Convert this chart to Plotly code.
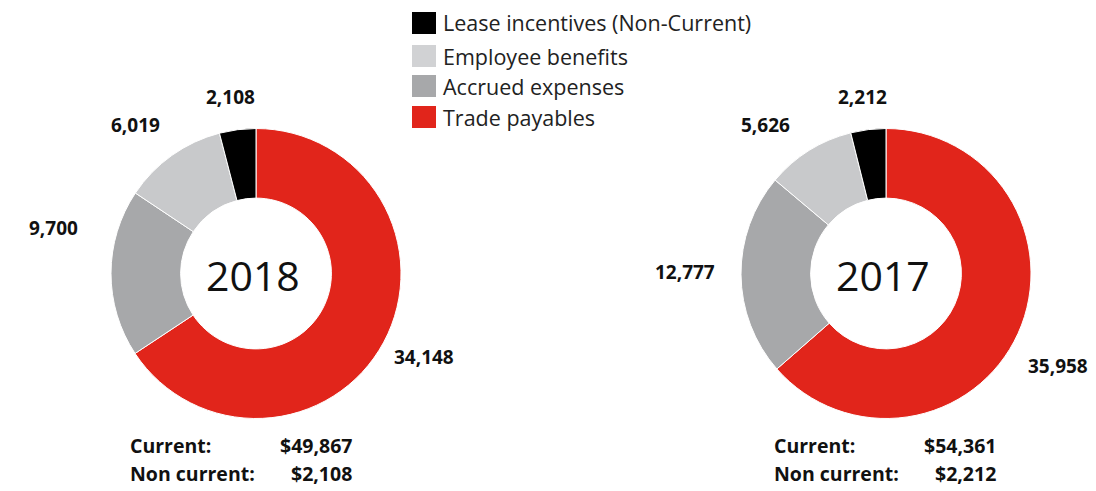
import plotly.graph_objects as go

categories = ["Trade payables", "Accrued expenses", "Employee benefits", "Lease incentives (Non-Current)"]
colors = ["#E1251B", "#A7A8AA", "#C8C9CB", "#000000"]
legend_colors = ["#E1251B", "#A7A8AA", "#D1D2D4", "#000000"]
values_2018 = [34148, 9700, 6019, 2108]
values_2017 = [35958, 12777, 5626, 2212]
years = ["2018", "2017"]

W, H = 1096, 491
FONT = "Open Sans"

def px(x):
    return x / W

def py(y):
    return 1 - y / H

fig = go.Figure()

# donut geometry (pixels)
centers = [(256, 273.5), (886, 273.5)]
R = 145
for (cx, cy), vals, yr in zip(centers, [values_2018, values_2017], years):
    fig.add_trace(go.Pie(
        labels=categories,
        values=vals,
        marker=dict(colors=colors, line=dict(color="white", width=1)),
        hole=0.52,
        sort=False,
        direction="clockwise",
        rotation=0,
        textinfo="none",
        hoverinfo="label+value",
        showlegend=False,
        domain=dict(x=[px(cx - R), px(cx + R)], y=[py(cy + R), py(cy - R)]),
        name=yr,
    ))

annotations = []
# value label positions (pixel centres), ordered as categories
label_pos = [
    [(424, 357), (53, 228), (135, 125), (230, 97)],
    [(1058, 366), (685, 272), (765, 125), (862, 97)],
]
for vals, poss in zip([values_2018, values_2017], label_pos):
    for v, (x, y) in zip(vals, poss):
        annotations.append(dict(
            x=px(x), y=py(y), xref="paper", yref="paper",
            text=f"<b>{v:,}</b>", showarrow=False,
            font=dict(family=FONT, size=19, color="#111111"),
            xanchor="center", yanchor="middle",
        ))

# centre year labels
for (cx, cy), yr in zip(centers, years):
    annotations.append(dict(
        x=px(cx - 3), y=py(cy + 1), xref="paper", yref="paper",
        text=yr, showarrow=False,
        font=dict(family=FONT, size=41, color="#111111"),
        xanchor="center", yanchor="middle",
    ))

# current / non current summaries
summary_x = [(128, 354), (772, 998)]
for (xl, xr), vals in zip(summary_x, [values_2018, values_2017]):
    current = sum(vals[:3])
    noncurrent = vals[3]
    for ytxt, label, amount in [(445, "Current:", current), (473, "Non current:", noncurrent)]:
        annotations.append(dict(
            x=px(xl), y=py(ytxt), xref="paper", yref="paper",
            text=f"<b>{label}</b>", showarrow=False,
            font=dict(family=FONT, size=19.5, color="#111111"),
            xanchor="left", yanchor="middle",
        ))
        annotations.append(dict(
            x=px(xr), y=py(ytxt), xref="paper", yref="paper",
            text=f"<b>${amount:,}</b>", showarrow=False,
            font=dict(family=FONT, size=19.5, color="#111111"),
            xanchor="right", yanchor="middle",
        ))

# custom legend (reverse order of slices)
shapes = []
leg_y = [23, 56, 86, 117]
for i, (cat, col) in enumerate(zip(categories[::-1], legend_colors[::-1])):
    yc = leg_y[i]
    shapes.append(dict(
        type="rect", xref="paper", yref="paper",
        x0=px(412), x1=px(436), y0=py(yc + 11), y1=py(yc - 11),
        fillcolor=col, line=dict(width=0),
    ))
    annotations.append(dict(
        x=px(441), y=py(yc), xref="paper", yref="paper",
        text=cat, showarrow=False,
        font=dict(family=FONT, size=21.5, color="#222222"),
        xanchor="left", yanchor="middle",
    ))

fig.update_layout(
    width=W, height=H,
    margin=dict(l=0, r=0, t=0, b=0),
    paper_bgcolor="white",
    plot_bgcolor="white",
    annotations=annotations,
    shapes=shapes,
    showlegend=False,
)

fig.write_html(
    "out.html",
    config={"displayModeBar": False},
    post_script="document.body.style.margin='0px';",
)
